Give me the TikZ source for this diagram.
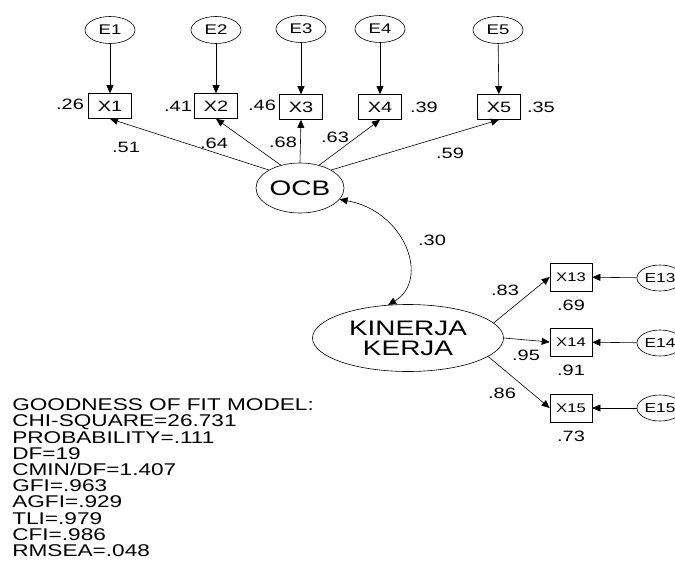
\documentclass[tikz,border=0pt]{standalone}
\usepackage{fontspec}
\newfontfamily\amosfont[FakeStretch=1.33]{Liberation Sans}
\usetikzlibrary{shapes.geometric, positioning, arrows.meta}

\begin{document}
\begin{tikzpicture}[
    x=1pt, y=-1pt,
    >={Triangle[length=8pt,width=7pt]},
    line width=0.6pt,
    err/.style={
        draw,
        ellipse,
        minimum width=50pt,
        minimum height=27pt,
        inner sep=0pt,
        font=\amosfont\fontsize{14}{14}\selectfont
    },
    obs/.style={
        draw,
        rectangle,
        minimum width=43pt,
        minimum height=25pt,
        inner sep=0pt,
        font=\amosfont\fontsize{15}{15}\selectfont
    },
    obssmall/.style={
        obs,
        minimum width=42pt,
        minimum height=28pt,
        font=\amosfont\fontsize{12.5}{12.5}\selectfont
    },
    latent/.style={
        draw,
        ellipse,
        inner sep=0pt,
        align=center,
        font=\amosfont\fontsize{21}{20}\selectfont
    },
    val/.style={
        inner sep=0pt,
        font=\amosfont\fontsize{15}{15}\selectfont
    }
]
  \useasboundingbox (0,0) rectangle (675,560);

  \node[err] (e1) at (110,30) {E1};
  \node[err] (e2) at (216,30) {E2};
  \node[err] (e3) at (301,29) {E3};
  \node[err] (e4) at (380,29) {E4};
  \node[err] (e5) at (498,30) {E5};

  \node[obs] (x1) at (110,106) {X1};
  \node[obs] (x2) at (216,106) {X2};
  \node[obs] (x3) at (301,107) {X3};
  \node[obs] (x4) at (380,107) {X4};
  \node[obs] (x5) at (499,107) {X5};

  \node[latent,minimum width=88pt,minimum height=50pt] (ocb) at (300,188) {OCB};
  \node[latent,minimum width=191pt,minimum height=67pt] (kk) at (408,338) {KINERJA\\KERJA};

  \node[obssmall] (x13) at (571,277) {X13};
  \node[obssmall] (x14) at (571,342) {X14};
  \node[obssmall] (x15) at (571,408) {X15};

  \node[err,minimum width=46pt,minimum height=26pt,font=\amosfont\fontsize{13}{13}\selectfont] (e13) at (660,278) {E13};
  \node[err,minimum width=46pt,minimum height=26pt,font=\amosfont\fontsize{13}{13}\selectfont] (e14) at (660,343) {E14};
  \node[err,minimum width=46pt,minimum height=26pt,font=\amosfont\fontsize{13}{13}\selectfont] (e15) at (660,408) {E15};

  \node[val] (r1) at (70,104) {.26};
  \node[val,left=2pt of x2] (r2) {.41};
  \node[val] (r3) at (262,105) {.46};
  \node[val,right=8pt of x4] (r4) {.39};
  \node[val,right=6pt of x5] (r5) {.35};
  \node[val,below=8pt of x13] (r13) {.69};
  \node[val,below=8pt of x14] (r14) {.91};
  \node[val,below=8pt of x15] (r15) {.73};

  \draw[->] (e1) -- (x1);
  \draw[->] (e2) -- (x2);
  \draw[->] (e3) -- (x3);
  \draw[->] (e4) -- (x4);
  \draw[->] (e5) -- (x5);

  \draw[->] (ocb.150) -- (x1.south);
  \draw[->] (ocb.130) -- (x2.south);
  \draw[->] (ocb.north) -- (x3.south);
  \draw[->] (ocb.50) -- (x4.south);
  \draw[->] (ocb.30) -- (x5.south);
  \node[val] at (126,147) {.51};
  \node[val] at (214,143) {.64};
  \node[val] at (283,142) {.68};
  \node[val] at (335,137) {.63};
  \node[val] at (450,153) {.59};

  \draw[<->] (ocb.-16) .. controls +(66,12) and +(42,-25) .. (kk.121);
  \node[val] at (432,240) {.30};

  \draw[->] (kk.10) -- (x13.west);
  \draw[->] (kk.east) -- (x14.west);
  \draw[->] (kk.-13) -- (x15.west);
  \node[val] at (505,290) {.83};
  \node[val] at (526,355) {.95};
  \node[val] at (502,393) {.86};

  \draw[->] (e13) -- (x13);
  \draw[->] (e14) -- (x14);
  \draw[->] (e15) -- (x15);

  \node[anchor=north west,inner sep=0pt,align=left,
        font=\amosfont\fontsize{17}{16.2}\selectfont] (gof) at (12,398.5)
    {GOODNESS OF FIT MODEL:\\CHI-SQUARE=26.731\\PROBABILITY=.111\\DF=19\\CMIN/DF=1.407\\GFI=.963\\AGFI=.929\\TLI=.979\\CFI=.986\\RMSEA=.048};
\end{tikzpicture}
\end{document}
